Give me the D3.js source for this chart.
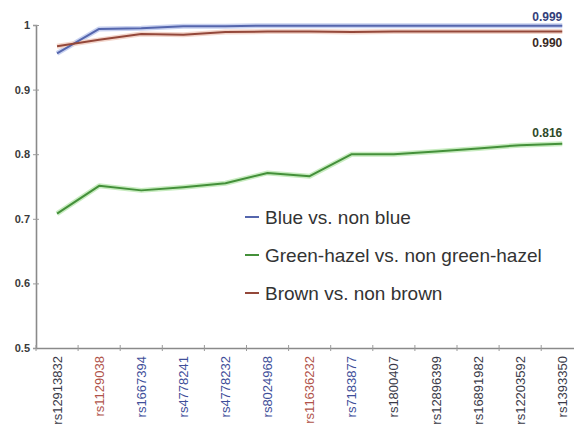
<!DOCTYPE html>
<html>
<head>
<meta charset="utf-8">
<script src="https://cdn.jsdelivr.net/npm/d3@7"></script>
<style>
  html, body { margin: 0; padding: 0; background: #fff; }
  svg { display: block; font-family: "Liberation Sans", Arial, Helvetica, sans-serif; }
</style>
</head>
<body>
<svg id="chart" width="574" height="433"></svg>
<script>
// SNP markers, in the order they are added to the model
const snps = ["rs12913832", "rs1129038", "rs1667394", "rs4778241", "rs4778232", "rs8024968",
  "rs11636232", "rs7183877", "rs1800407", "rs12896399", "rs16891982", "rs12203592", "rs1393350"];
// label colour group of each marker
const snpGroup = ["dark", "red", "blue", "blue", "blue", "blue", "red", "blue",
  "dark", "dark", "dark", "dark", "dark"];

// cumulative AUC for each eye-colour comparison
const blueAUC  = [0.956, 0.994, 0.995, 0.998, 0.998, 0.999, 0.999, 0.999, 0.999, 0.999, 0.999, 0.999, 0.999];
const greenAUC = [0.708, 0.751, 0.744, 0.749, 0.755, 0.771, 0.766, 0.800, 0.800, 0.804, 0.809, 0.814, 0.816];
const brownAUC = [0.967, 0.977, 0.986, 0.985, 0.989, 0.990, 0.990, 0.989, 0.990, 0.990, 0.990, 0.990, 0.990];

const seriesNames = ["Blue vs. non blue", "Green-hazel vs. non green-hazel", "Brown vs. non brown"];
const yTicks = [0.5, 0.6, 0.7, 0.8, 0.9, 1];

const series = [
  { name: seriesNames[0], values: blueAUC,  color: "#5566ad", glow: "#c9d2f0", labelColor: "#34407a" },
  { name: seriesNames[1], values: greenAUC, color: "#44903a", glow: "#c8ecc0", labelColor: "#2f4a2a" },
  { name: seriesNames[2], values: brownAUC, color: "#94483a", glow: "#f3d6cc", labelColor: "#3a2a26" }
];
const groupColor = { dark: "#3a3a48", red: "#b0534a", blue: "#3f4f9a" };

const svg = d3.select("#chart");
const plotLeft = 36, plotTop = 25, plotBottom = 348;

const x = d3.scaleBand().domain(snps).range([plotLeft, plotLeft + 42.1 * snps.length]).padding(0);
const y = d3.scaleLinear().domain([0.5, 1]).range([plotBottom, plotTop]);

// axes
const yAxis = svg.append("g")
  .attr("transform", `translate(${plotLeft},0)`)
  .call(d3.axisLeft(y).tickValues(yTicks).tickFormat(d => d === 1 ? "1" : d3.format(".1f")(d)).tickSize(3));
yAxis.select(".domain").attr("stroke", "#8a8a8a").attr("stroke-width", 1.6);
yAxis.selectAll(".tick line").attr("stroke", "#9a9a9a").attr("x2", 3).attr("x1", -3);
yAxis.selectAll(".tick text")
  .attr("x", -6)
  .attr("fill", "#3a3a3a")
  .attr("font-size", 11)
  .attr("font-weight", "bold");

const xAxis = svg.append("g")
  .attr("transform", `translate(0,${plotBottom})`)
  .call(d3.axisBottom(x).tickSize(0).tickSizeOuter(0));
xAxis.select(".domain").attr("stroke", "#8a8a8a").attr("stroke-width", 1.6);
xAxis.selectAll(".tick text")
  .attr("transform", "rotate(-90)")
  .attr("text-anchor", "end")
  .attr("dy", "0.35em")
  .attr("x", -8)
  .attr("y", 0)
  .attr("font-size", 13)
  .attr("fill", (d, i) => groupColor[snpGroup[i]]);

// band boundary tick marks on the x axis
svg.append("g").selectAll("line")
  .data(snps)
  .join("line")
  .attr("x1", d => x(d)).attr("x2", d => x(d))
  .attr("y1", plotBottom - 3).attr("y2", plotBottom + 3)
  .attr("stroke", "#9a9a9a").attr("stroke-width", 1);

const line = d3.line()
  .x((d, i) => x(snps[i]) + x.bandwidth() / 2)
  .y(d => y(d));

// soft halo under each line, then the line itself
series.forEach(s => {
  svg.append("path")
    .attr("d", line(s.values))
    .attr("fill", "none")
    .attr("stroke", s.glow)
    .attr("stroke-width", 5)
    .attr("stroke-linejoin", "round");
});
series.forEach(s => {
  svg.append("path")
    .attr("d", line(s.values))
    .attr("fill", "none")
    .attr("stroke", s.color)
    .attr("stroke-width", 2)
    .attr("stroke-linejoin", "round");
});

// final value labels
const lastX = x(snps[snps.length - 1]) + x.bandwidth() / 2;
const endLabels = [
  { s: series[0], dy: -5 },
  { s: series[2], dy: 16 },
  { s: series[1], dy: -7 }
];
endLabels.forEach(l => {
  const v = l.s.values[l.s.values.length - 1];
  svg.append("text")
    .attr("x", lastX)
    .attr("y", y(v) + l.dy)
    .attr("text-anchor", "end")
    .attr("font-size", 12)
    .attr("font-weight", "bold")
    .attr("fill", l.s.labelColor)
    .text(d3.format(".3f")(v));
});

// legend
const legend = svg.append("g").attr("transform", "translate(245,217)");
series.forEach((s, i) => {
  const g = legend.append("g").attr("transform", `translate(0,${i * 38})`);
  g.append("line")
    .attr("x1", 0).attr("x2", 14)
    .attr("y1", 0).attr("y2", 0)
    .attr("stroke", s.color).attr("stroke-width", 2);
  g.append("text")
    .attr("x", 20)
    .attr("dy", "0.35em")
    .attr("font-size", 19)
    .attr("fill", "#333")
    .text(s.name);
});
</script>
</body>
</html>
